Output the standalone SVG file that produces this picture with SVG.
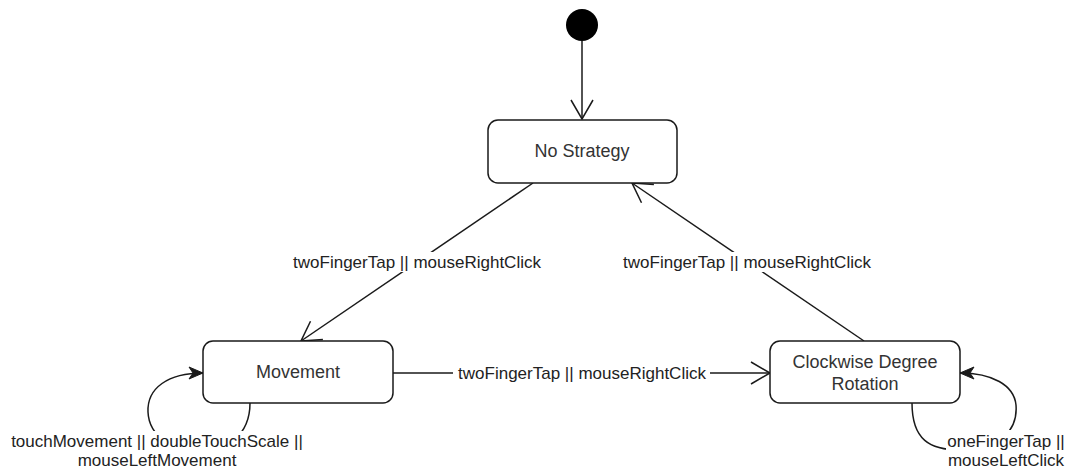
<svg xmlns="http://www.w3.org/2000/svg" width="1070" height="470" viewBox="0 0 1070 470">
<style>
.box{fill:#fff;stroke:#1a1a1a;stroke-width:1.5}
.edge{fill:none;stroke:#1a1a1a;stroke-width:1.5}
.nt{font-family:"Liberation Sans",Arial,sans-serif;font-size:18px;fill:#333;text-anchor:middle;dominant-baseline:central}
.lt{font-family:"Liberation Sans",Arial,sans-serif;font-size:17px;fill:#222;text-anchor:middle;dominant-baseline:central}
.bg{fill:#fff}
</style>
<defs>
<marker id="open" markerUnits="userSpaceOnUse" markerWidth="24" markerHeight="26" refX="21" refY="12" orient="auto" overflow="visible">
<path d="M2,1 L21,12 L2,23" fill="none" stroke="#1a1a1a" stroke-width="1.5"/>
</marker>
<marker id="filled" markerUnits="userSpaceOnUse" markerWidth="16" markerHeight="12" refX="14" refY="6" orient="auto" overflow="visible">
<path d="M0,0 L14,6 L0,12 L4,6 Z" fill="#1a1a1a" stroke="#1a1a1a" stroke-width="1"/>
</marker>
</defs>
<g id="connectors">
<line class="edge" x1="582" y1="41" x2="582" y2="119" marker-end="url(#open)"/>
<line class="edge" x1="533" y1="183" x2="301" y2="341" marker-end="url(#open)"/>
<line class="edge" x1="864" y1="341" x2="632" y2="183" marker-end="url(#open)"/>
<line class="edge" x1="393" y1="373" x2="770" y2="373" marker-end="url(#open)"/>
<path class="edge" d="M250,403 C250,470 150,462 148,412 C147,388 168,373 203,373" marker-end="url(#filled)"/>
<path class="edge" d="M912,403 C912,440 930,450 960,450 C1000,450 1018,430 1016,405 C1014,385 992,373 960,373" marker-end="url(#filled)"/>
<rect class="bg" x="288" y="252" width="257" height="20"/>
<text class="lt" x="417" y="262">twoFingerTap || mouseRightClick</text>
<rect class="bg" x="618" y="252" width="258" height="20"/>
<text class="lt" x="747" y="262">twoFingerTap || mouseRightClick</text>
<rect class="bg" x="453" y="364" width="257" height="19"/>
<text class="lt" x="582" y="373">twoFingerTap || mouseRightClick</text>
<rect class="bg" x="6" y="431" width="302" height="39"/>
<text class="lt" x="157" y="441">touchMovement || doubleTouchScale ||</text>
<text class="lt" x="157" y="460">mouseLeftMovement</text>
<rect class="bg" x="946" y="430" width="122" height="40"/>
<text class="lt" x="1006" y="441">oneFingerTap ||</text>
<text class="lt" x="1006" y="460">mouseLeftClick</text>
</g>
<g id="initial">
<circle cx="582" cy="25" r="16" fill="#000"/>
</g>
<g id="no-strategy">
<rect class="box" x="488" y="120" width="189" height="63" rx="10"/>
<text class="nt" x="582" y="151">No Strategy</text>
</g>
<g id="movement">
<rect class="box" x="203" y="341" width="190" height="62" rx="10"/>
<text class="nt" x="298" y="372">Movement</text>
</g>
<g id="rotation">
<rect class="box" x="770" y="341" width="190" height="62" rx="10"/>
<text class="nt" x="865" y="362">Clockwise Degree</text>
<text class="nt" x="865" y="384">Rotation</text>
</g>
</svg>
